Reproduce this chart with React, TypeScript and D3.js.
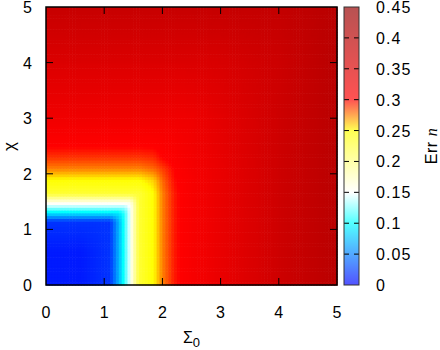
import * as d3 from "d3";

// grid where the error was read off (non-uniform, denser at the transitions)
const sigma0 = [0, 0.6, 1.1, 1.25, 1.35, 1.45, 1.6, 1.85, 2.0, 2.2, 2.5, 3, 4, 5];
const chi = [0, 0.6, 1.15, 1.3, 1.4, 1.5, 1.65, 1.9, 2.1, 2.3, 2.6, 3, 4, 5];

// errN[j][i] = Err n at (sigma0[i], chi[j])
const errN = [
  [0.01, 0.01, 0.02, 0.07, 0.11, 0.15, 0.23, 0.25, 0.275, 0.295, 0.31, 0.33, 0.37, 0.40],
  [0.01, 0.01, 0.02, 0.07, 0.11, 0.15, 0.23, 0.25, 0.275, 0.295, 0.31, 0.33, 0.37, 0.40],
  [0.02, 0.02, 0.02, 0.07, 0.11, 0.15, 0.23, 0.25, 0.275, 0.295, 0.31, 0.33, 0.37, 0.40],
  [0.09, 0.09, 0.09, 0.09, 0.11, 0.15, 0.23, 0.25, 0.275, 0.295, 0.31, 0.33, 0.37, 0.40],
  [0.13, 0.13, 0.13, 0.13, 0.13, 0.15, 0.23, 0.25, 0.275, 0.295, 0.31, 0.33, 0.37, 0.40],
  [0.16, 0.16, 0.16, 0.16, 0.16, 0.16, 0.23, 0.25, 0.275, 0.295, 0.31, 0.33, 0.37, 0.40],
  [0.23, 0.23, 0.23, 0.23, 0.23, 0.23, 0.23, 0.25, 0.275, 0.295, 0.31, 0.33, 0.37, 0.40],
  [0.25, 0.25, 0.25, 0.25, 0.25, 0.25, 0.25, 0.26, 0.28, 0.298, 0.31, 0.33, 0.37, 0.40],
  [0.275, 0.275, 0.275, 0.275, 0.275, 0.275, 0.275, 0.28, 0.288, 0.30, 0.312, 0.33, 0.37, 0.40],
  [0.29, 0.29, 0.29, 0.29, 0.29, 0.29, 0.29, 0.292, 0.30, 0.305, 0.315, 0.332, 0.37, 0.40],
  [0.305, 0.305, 0.305, 0.305, 0.305, 0.305, 0.305, 0.305, 0.307, 0.31, 0.318, 0.335, 0.37, 0.40],
  [0.32, 0.32, 0.32, 0.32, 0.32, 0.32, 0.32, 0.32, 0.32, 0.32, 0.322, 0.338, 0.37, 0.40],
  [0.35, 0.35, 0.35, 0.35, 0.35, 0.35, 0.35, 0.35, 0.35, 0.35, 0.35, 0.355, 0.372, 0.40],
  [0.38, 0.38, 0.38, 0.38, 0.38, 0.38, 0.38, 0.38, 0.38, 0.38, 0.38, 0.382, 0.385, 0.40],
];

const axisTicks = [0, 1, 2, 3, 4, 5];
const cbTicks = [0, 0.05, 0.1, 0.15, 0.2, 0.25, 0.3, 0.35, 0.4, 0.45];
const cbLabels = ["0", "0.05", "0.1", "0.15", "0.2", "0.25", "0.3", "0.35", "0.4", "0.45"];

const paletteStops = [0, 0.05, 0.1, 0.15, 0.2, 0.25, 0.3, 0.45];
const paletteColors = ["#0000ff", "#0080ff", "#00ffff", "#ffffff", "#ffff80", "#ffff00", "#ff0000", "#960000"];

const width = 440;
const height = 350;
const left = 46, right = 337, top = 7, bottom = 285;
const cbLeft = 344, cbRight = 359;
const font = "'Liberation Sans', Arial, sans-serif";

const x = d3.scaleLinear([0, 5], [left, right]);
const y = d3.scaleLinear([0, 5], [bottom, top]);
const cb = d3.scaleLinear([0, 0.45], [bottom, top]);
const color = d3.scaleLinear<string>(paletteStops, paletteColors).interpolate(d3.interpolateRgb).clamp(true);

// bilinear lookup in the read-off grid (shading like gnuplot's pm3d interpolate)
function lookup(sx: number, cy: number) {
  const i = Math.min(Math.max(d3.bisectRight(sigma0, sx) - 1, 0), sigma0.length - 2);
  const j = Math.min(Math.max(d3.bisectRight(chi, cy) - 1, 0), chi.length - 2);
  const tx = (sx - sigma0[i]) / (sigma0[i + 1] - sigma0[i]);
  const ty = (cy - chi[j]) / (chi[j + 1] - chi[j]);
  const a = errN[j][i] * (1 - tx) + errN[j][i + 1] * tx;
  const b = errN[j + 1][i] * (1 - tx) + errN[j + 1][i + 1] * tx;
  return a * (1 - ty) + b * ty;
}

const step = 0.05;
const cells: { sx: number; cy: number; v: number }[] = [];
for (let cy = 0; cy < 5 - 1e-9; cy += step) {
  for (let sx = 0; sx < 5 - 1e-9; sx += step) {
    cells.push({ sx, cy, v: lookup(sx + step / 2, cy + step / 2) });
  }
}

export default function App() {
  const gradStops = d3.range(0, 0.4501, 0.005);
  return (
    <svg width={width} height={height} style={{ display: "block", position: "absolute", left: 0, top: 0 }}>
      <defs>
        <linearGradient id="cbgrad" x1="0" y1="1" x2="0" y2="0">
          {gradStops.map((v, k) => (
            <stop key={k} offset={v / 0.45} stopColor={color(v)} />
          ))}
        </linearGradient>
      </defs>
      <rect x={0} y={0} width={width} height={height} fill="white" />
      <g>
        {cells.map((c, k) => (
          <rect
            key={k}
            x={x(c.sx)}
            y={y(c.cy + step)}
            width={x(step) - x(0) + 0.6}
            height={y(0) - y(step) + 0.6}
            fill={color(c.v)}
          />
        ))}
      </g>
      {/* ticks on all four sides, pointing inward */}
      <g stroke="black" strokeWidth={1}>
        {axisTicks.slice(1, -1).map((t) => (
          <g key={"t" + t}>
            <line x1={x(t)} x2={x(t)} y1={bottom} y2={bottom - 7} />
            <line x1={x(t)} x2={x(t)} y1={top} y2={top + 7} />
            <line x1={left} x2={left + 7} y1={y(t)} y2={y(t)} />
            <line x1={right} x2={right - 7} y1={y(t)} y2={y(t)} />
          </g>
        ))}
      </g>
      <rect x={left} y={top} width={right - left} height={bottom - top} fill="none" stroke="black" strokeWidth={1.5} />
      <g fontFamily={font} fontSize={16} fill="black" letterSpacing={1.1}>
        {axisTicks.map((t) => (
          <text key={"x" + t} x={x(t) + 0.5} y={317.5} textAnchor="middle">{t}</text>
        ))}
        {axisTicks.map((t) => (
          <text key={"y" + t} x={33} y={y(t) + 6} textAnchor="end">{t}</text>
        ))}
        <text x={(left + right) / 2} y={343} textAnchor="middle" letterSpacing={0}>
          Σ<tspan fontSize={13} dy={4}>0</tspan>
        </text>
        <text transform={`translate(15,${(top + bottom) / 2}) rotate(-90)`} textAnchor="middle" fontSize={17}>χ</text>
      </g>
      {/* colour box */}
      <rect x={cbLeft} y={top} width={cbRight - cbLeft} height={bottom - top} fill="url(#cbgrad)" opacity={0.68} />
      <g stroke="black" strokeWidth={1}>
        {cbTicks.slice(1, -1).map((t) => (
          <g key={"c" + t}>
            <line x1={cbLeft} x2={cbLeft + 5} y1={cb(t)} y2={cb(t)} />
            <line x1={cbRight} x2={cbRight - 5} y1={cb(t)} y2={cb(t)} />
          </g>
        ))}
      </g>
      <rect x={cbLeft} y={top} width={cbRight - cbLeft} height={bottom - top} fill="none" stroke="#333" strokeWidth={1} />
      <g fontFamily={font} fontSize={16} fill="black" letterSpacing={1.1}>
        {cbTicks.map((t, k) => (
          <text key={"l" + t} x={376} y={cb(t) + 6}>{cbLabels[k]}</text>
        ))}
        <text transform={`translate(437,${(top + bottom) / 2}) rotate(-90)`} textAnchor="middle" letterSpacing={0.5}>
          Err <tspan fontFamily="'Liberation Serif', serif" fontStyle="italic">n</tspan>
        </text>
      </g>
    </svg>
  );
}
